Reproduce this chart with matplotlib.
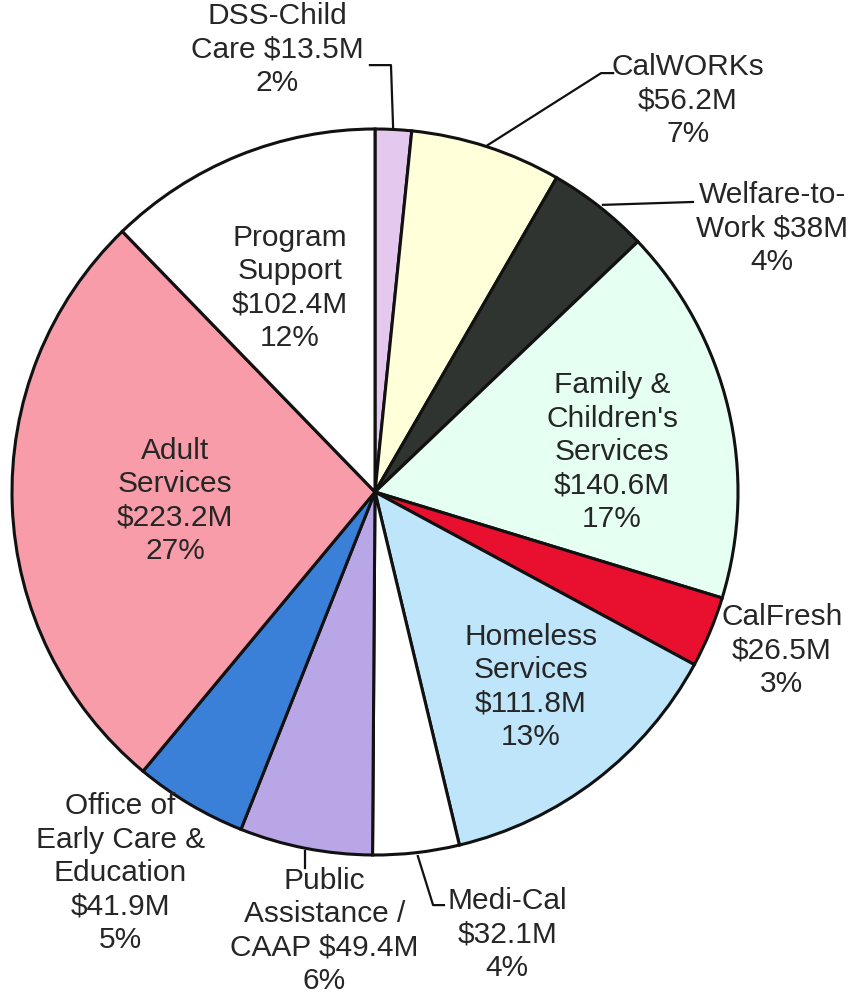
import matplotlib
matplotlib.use("Agg")
import matplotlib.pyplot as plt

# budget by program, $M
names = ["DSS-Child\nCare", "CalWORKs", "Welfare-to-\nWork", "Family &\nChildren's\nServices",
         "CalFresh", "Homeless\nServices", "Medi-Cal", "Public\nAssistance /\nCAAP",
         "Office of\nEarly Care &\nEducation", "Adult\nServices", "Program\nSupport"]
amounts = [13.5, 56.2, 38, 140.6, 26.5, 111.8, 32.1, 49.4, 41.9, 223.2, 102.4]
amount_text = ["$13.5M", "$56.2M", "$38M", "$140.6M", "$26.5M", "$111.8M",
               "$32.1M", "$49.4M", "$41.9M", "$223.2M", "$102.4M"]
pct_text = ["2%", "7%", "4%", "17%", "3%", "13%", "4%", "6%", "5%", "27%", "12%"]
colors = ["#E4C8EE", "#FFFFD9", "#2F3430", "#E6FFF3", "#E8102E", "#BEE5FA",
          "#FFFFFF", "#B8A6E6", "#3B80D8", "#F79CA8", "#FFFFFF"]

# how name and amount are joined (same line or new line)
joiner = [" ", "\n", " ", "\n", "\n", "\n", "\n", " ", "\n", "\n", "\n"]

# label centres, in pie radius units (pie centre = 0,0)
label_pos = [(-0.270, 1.218), (0.862, 1.078), (1.094, 0.727), (0.653, 0.110),
             (1.121, -0.437), (0.430, -0.537), (0.364, -1.218), (-0.140, -1.210),
             (-0.702, -1.050), (-0.551, -0.025), (-0.234, 0.562)]

# leader lines (pixel-derived, radius units)
leaders = [
    [(-0.014, 1.176), (0.044, 1.176), (0.050, 1.000)],
    [(0.656, 1.154), (0.623, 1.154), (0.311, 0.956)],
    [(0.876, 0.799), (0.628, 0.791)],
    [(-0.193, -1.035), (-0.193, -0.990)],
    [(0.190, -1.138), (0.160, -1.138), (0.118, -1.003)],
]

fig = plt.figure(figsize=(8.54, 9.99), dpi=100)
ax = fig.add_axes([0, 0, 1, 1])

ax.pie(amounts, colors=colors, startangle=90, counterclock=False,
       wedgeprops=dict(edgecolor="#111111", linewidth=2.2))

for n, j, a, p, (x, y) in zip(names, joiner, amount_text, pct_text, label_pos):
    ax.text(x, y, n + j + a + "\n" + p, ha="center", va="center",
            fontsize=21.5, family="Liberation Sans", color="#262626",
            linespacing=1.25)

for pts in leaders:
    xs = [pt[0] for pt in pts]
    ys = [pt[1] for pt in pts]
    ax.plot(xs, ys, color="#111111", lw=1.6)

r = 363.0
ax.set_xlim(-375 / r, (854 - 375) / r)
ax.set_ylim(-(999 - 492) / r, 492 / r)
ax.set_aspect("auto")
ax.axis("off")

fig.savefig("out.png", dpi=100, facecolor="white")
